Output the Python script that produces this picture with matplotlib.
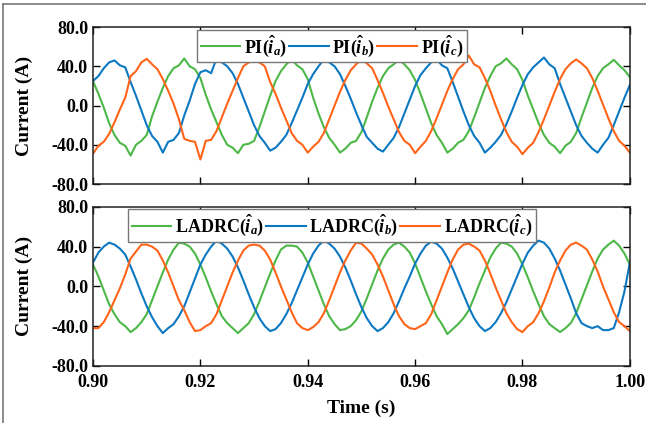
import numpy as np
import matplotlib.pyplot as plt
from matplotlib.lines import Line2D

plt.rcParams['font.family'] = 'Liberation Serif'
plt.rcParams['font.weight'] = 'bold'
plt.rcParams['mathtext.fontset'] = 'custom'
plt.rcParams['mathtext.rm'] = 'Liberation Serif:bold'
plt.rcParams['mathtext.it'] = 'Liberation Serif:italic:bold'
plt.rcParams['mathtext.bf'] = 'Liberation Serif:bold'

# time axis, 1 ms step
t = np.round(np.arange(0.900, 1.0005, 0.001), 3)

# PI controller currents (A)
pi_a = [24.6, 12, -2, -18, -30, -38, -41, -51, -40, -36, -30, -11, 4, 18, 30, 38, 41, 48, 40, 37,
        28, 11, -4, -17, -30, -40, -43, -48.6, -40, -39, -36, -22, -6, 10, 25, 35, 42, 47, 41, 37,
        27, 8, -8, -22, -33, -40, -48, -44, -38, -36, -27, -12, 4, 18, 30, 38, 42, 46.6, 42, 36,
        26, 12, -3, -18, -30, -38, -48, -44, -38, -35, -26, -12, 3, 18, 30, 40, 43, 48, 42, 37,
        26, 10, -4, -18, -30, -38, -42, -48.6, -41, -37, -28, -12, 3, 18, 30, 38, 42, 46.6, 41, 36,
        29]
pi_b = [25, 30, 38, 44, 46, 41, 39, 24, 10, -5, -20, -31, -37, -48, -37, -35, -28, -10, 5, 22,
        34, 36, 33, 48, 44, 40, 33, 22, 8, -6, -20, -31, -38, -46, -43, -37, -30, -18, -5, 8,
        22, 32, 40, 47, 44, 40, 32, 20, 7, -7, -20, -32, -38, -44, -47, -40, -33, -22, -8, 6,
        20, 31, 38, 44, 47, 41, 38, 24, 9, -6, -20, -31, -38, -48, -43, -37, -30, -19, -6, 8,
        21, 32, 39, 44, 49, 42, 38, 22, 8, -6, -20, -31, -38, -44, -48, -40, -33, -20, -6, 8,
        21]
pi_c = [-49, -41, -37, -29, -17, -4, 8, 30, 35, 44, 47.6, 42, 37, 27, 15, 2, -14, -34, -36, -37,
        -55, -36, -35, -26, -12, 2, 15, 28, 40, 44, 45, 44, 40, 24, 12, -2, -15, -28, -36, -40,
        -48, -42, -37, -28, -14, 0, 14, 26, 36, 42, 47, 43, 38, 26, 13, -1, -14, -27, -36, -40,
        -48.6, -42, -36, -26, -13, 1, 15, 27, 37, 42, 51, 42, 39, 28, 15, 0, -14, -27, -37, -42,
        -49.6, -43, -38, -27, -14, 0, 14, 27, 37, 43, 47, 43, 38, 28, 15, 1, -13, -26, -36, -41,
        -48]

# LADRC controller currents (A)
la_a = [22, 10, -4, -18, -28, -36, -40, -46, -42, -36, -28, -14, 0, 14, 27, 37, 44, 43, 40, 33,
        22, 9, -5, -18, -30, -37, -42, -47, -42, -37, -28, -15, -1, 13, 26, 37, 41, 41, 40, 34,
        24, 10, -4, -18, -30, -38, -44, -43, -40, -34, -25, -12, 2, 16, 28, 37, 42, 44, 40, 34,
        23, 9, -5, -18, -30, -38, -48, -43, -38, -32, -24, -11, 3, 16, 29, 38, 44, 43, 40, 33,
        22, 9, -5, -18, -30, -38, -42, -46, -42, -37, -27, -13, 1, 15, 28, 37, 42, 46, 41, 33,
        22]
la_b = [24, 34, 40, 44, 42, 38, 32, 20, 7, -7, -20, -31, -40, -47, -42, -38, -30, -20, -6, 8,
        22, 32, 40, 46, 43, 38, 30, 19, 6, -8, -21, -32, -40, -45, -43, -37, -28, -17, -4, 9,
        22, 33, 41, 46, 43, 38, 30, 19, 6, -8, -21, -32, -40, -45, -42, -36, -27, -15, -2, 10,
        23, 33, 41, 45, 43, 38, 29, 18, 5, -8, -21, -32, -40, -45, -42, -36, -27, -16, -3, 10,
        23, 34, 41, 46, 44, 38, 28, 16, 2, -12, -27, -37, -40, -42, -40, -44, -44, -42, -26, -5,
        24]
la_c = [-42, -42, -36, -26, -14, -2, 12, 28, 35, 42, 42, 40, 36, 26, 14, 0, -14, -24, -36, -45,
        -44, -40, -37, -28, -14, 0, 14, 26, 36, 41, 42, 41, 36, 27, 14, 0, -13, -26, -37, -42,
        -44, -41, -36, -27, -14, 0, 14, 26, 36, 44, 43, 38, 32, 22, 10, -4, -18, -30, -38, -42,
        -43, -40, -37, -28, -14, 0, 14, 27, 37, 42, 43, 40, 36, 26, 13, -1, -14, -27, -36, -43,
        -46, -40, -36, -27, -15, -1, 14, 26, 36, 42, 44, 41, 37, 27, 15, 0, -13, -26, -36, -40,
        -45]

green = '#4db848'
blue = '#0c78c2'
orange = '#ff6419'
xticks = [0.90, 0.92, 0.94, 0.96, 0.98, 1.00]
yticks = [-80, -40, 0, 40, 80]

fig = plt.figure(figsize=(6.46, 4.23), dpi=100)
ax1 = fig.add_axes([0.144, 0.565, 0.831, 0.371])
ax2 = fig.add_axes([0.144, 0.135, 0.831, 0.376])

ax1.plot(t, pi_a, color=green, lw=1.5, label=r'PI($\hat{i}_a$)')
ax1.plot(t, pi_b, color=blue, lw=1.5, label=r'PI($\hat{i}_b$)')
ax1.plot(t, pi_c, color=orange, lw=1.5, label=r'PI($\hat{i}_c$)')

ax2.plot(t, la_a, color=green, lw=1.5, label=r'LADRC($\hat{i}_a$)')
ax2.plot(t, la_b, color=blue, lw=1.5, label=r'LADRC($\hat{i}_b$)')
ax2.plot(t, la_c, color=orange, lw=1.5, label=r'LADRC($\hat{i}_c$)')

for ax in (ax1, ax2):
    ax.set_xlim(0.90, 1.00)
    ax.set_ylim(-80, 80)
    ax.set_xticks(xticks)
    ax.set_yticks(yticks)
    ax.set_yticklabels(['%.1f' % v for v in yticks])
    ax.tick_params(direction='in', top=True, right=True, length=5, width=1,
                   labelsize=13, colors='black')
    ax.tick_params(axis='x', pad=6)
    ax.set_ylabel('Current (A)', fontsize=14, fontweight='bold', labelpad=13)
    for s in ax.spines.values():
        s.set_linewidth(1.1)
        s.set_color('#222222')
    leg = ax.legend(loc='upper center', bbox_to_anchor=(0.445, 0.995), ncol=3,
                    fontsize=13, handlelength=2.2, handletextpad=0.2,
                    columnspacing=0.1, borderpad=0.2, borderaxespad=0.1,
                    fancybox=False, framealpha=1, edgecolor='#777777')
    leg.get_frame().set_linewidth(1.0)

ax1.set_xticklabels([])
ax2.set_xticklabels(['%.2f' % v for v in xticks])
ax2.set_xlabel('Time (s)', fontsize=14, fontweight='bold', labelpad=6)

# border of the cropped figure
fig.add_artist(Line2D([0.005, 1.0], [0.99, 0.99], color='#777777', lw=1.2))
fig.add_artist(Line2D([0.005, 0.005], [0.0, 0.99], color='#777777', lw=1.2))

fig.savefig('out.png', dpi=100)
